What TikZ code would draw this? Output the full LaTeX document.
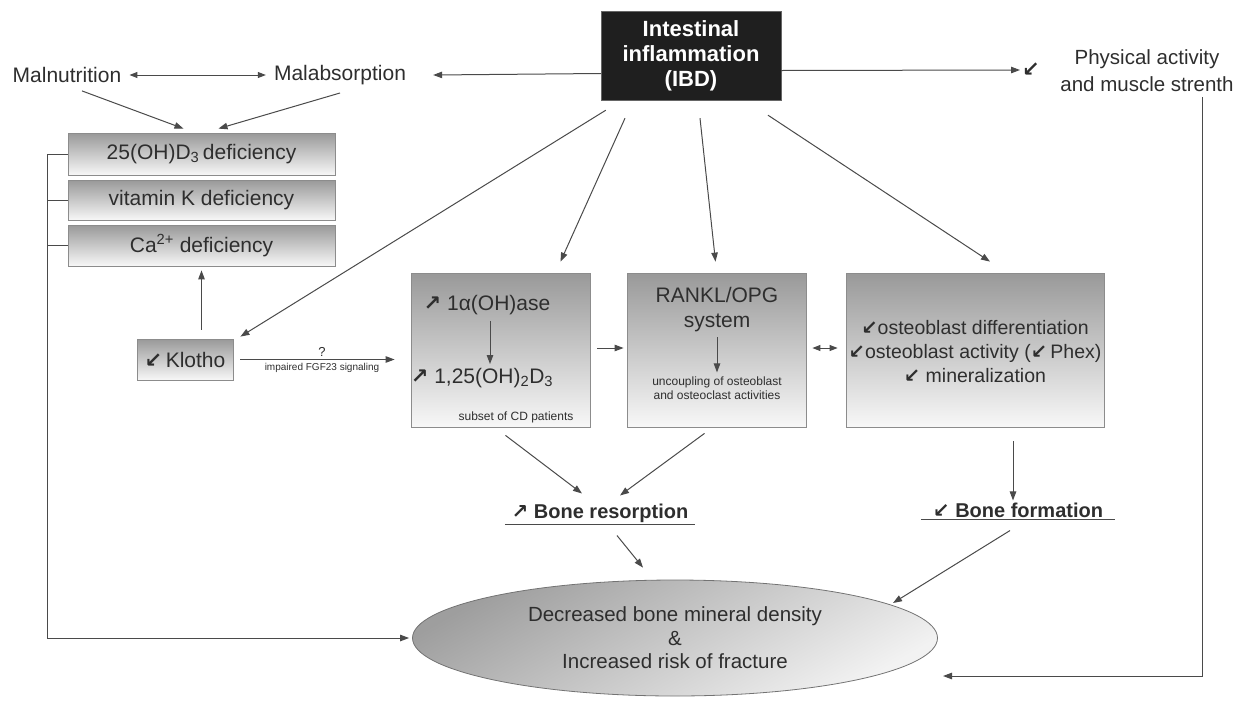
\documentclass[tikz,border=0pt]{standalone}
\usepackage{fontspec}
\setmainfont{Liberation Sans}
\newfontfamily\symfont{DejaVu Sans}
\usetikzlibrary{arrows.meta,shapes.geometric,calc}
\newcommand\upar{{\symfont\bfseries\char"2197}}
\newcommand\dnar{{\symfont\bfseries\char"2199}}
\definecolor{txt}{HTML}{2E2E2E}
\definecolor{ln}{HTML}{4A4A4A}
\begin{document}
\begin{tikzpicture}[x=1pt,y=-1pt,
  every node/.style={font=\fontsize{21}{25}\selectfont, text=txt, inner sep=2pt},
  arr/.style={draw=ln, line width=1pt, -{Triangle[length=9pt,width=6.5pt]}},
  darr/.style={draw=ln, line width=1pt, {Triangle[length=8pt,width=6pt]}-{Triangle[length=8pt,width=6pt]}},
  plain/.style={draw=ln, line width=1pt},
  gbox/.style={draw=black!45, line width=0.8pt, top color=black!40, bottom color=black!3, inner sep=0pt},
  small/.style={font=\fontsize{12}{14}\selectfont},
  tiny/.style={font=\fontsize{10}{11}\selectfont},
  mid/.style={font=\fontsize{19.5}{24}\selectfont},
  bold/.style={font=\bfseries\fontsize{20}{24}\selectfont},
]
\useasboundingbox (0,0) rectangle (1240,702);

% top row
\node[fill=black!88, draw=black!60, minimum width=180pt, minimum height=89pt, text=white,
      font=\bfseries\fontsize{22}{25}\selectfont, align=center] (ibd) at (691,55.5)
      {Intestinal\\inflammation\\(IBD)};
\node (malnut) at (67,75) {Malnutrition};
\node (malabs) at (340,75) {Malabsorption};
\node (physarr) at (1031,70) {\dnar};
\node[align=center, font=\fontsize{20.5}{27}\selectfont] (phys) at (1147,71) {Physical activity\\and muscle strenth};

% deficiency boxes
\node[gbox, minimum width=267pt, minimum height=42pt] (d25) at (201.5,154) {25(OH)D\textsubscript{3}\,deficiency};
\node[gbox, minimum width=267pt, minimum height=40pt] (vitk) at (201.5,200) {vitamin K deficiency};
\node[gbox, minimum width=267pt, minimum height=41pt] (ca) at (201.5,245.5) {Ca\textsuperscript{2+} deficiency};

% Klotho
\node[gbox, minimum width=96pt, minimum height=41pt] (klotho) at (185,359.5) {\dnar\,Klotho};

% middle boxes
\node[gbox, minimum width=179pt, minimum height=154pt] (alpha) at (500.5,350) {};
\node (a1) at (487,305) {\upar\ 1α(OH)ase};
\node (a2) at (482,378) {\upar\ 1,25(OH)\textsubscript{2}D\textsubscript{3}};
\node[small] (a3) at (516,417) {subset of CD patients};

\node[gbox, minimum width=179pt, minimum height=154pt] (rankl) at (716.5,350) {};
\node[align=center, font=\fontsize{21}{25}\selectfont] (r1) at (717,310) {RANKL/OPG\\system};
\node[small, align=center] (r2) at (717,388) {uncoupling of osteoblast\\and osteoclast activities};

\node[gbox, minimum width=258pt, minimum height=154pt] (ob) at (975,350) {};
\node[mid, align=center] (obt) at (975,352)
  {\dnar osteoblast differentiation\\\dnar osteoblast activity (\dnar\,Phex)\\\dnar\ mineralization};

% bone resorption / formation
\node[bold, minimum width=190pt] (bres) at (600,513) {\upar\ Bone resorption};
\node[bold, minimum width=194pt] (bform) at (1018,510) {\dnar\ Bone formation};
\draw[plain] (bres.south west) -- (bres.south east);
\draw[plain] (bform.south west) -- (bform.south east);

% ellipse
\node[ellipse, draw=black!55, line width=0.8pt, minimum width=525pt, minimum height=116pt,
      top color=black!38, bottom color=black!5, shading angle=30, align=center,
      font=\fontsize{20.5}{23.5}\selectfont] (ell) at (675,638)
      {Decreased bone mineral density\\\&\\Increased risk of fracture};

% connectors
\draw[darr, shorten <=6pt, shorten >=6pt] (malnut.east) -- (malabs.west);
\draw[arr] ($(ibd.west)+(0,18)$) -- ($(malabs.east)+(25,0)$);
\draw[arr] ($(ibd.east)+(0,15)$) -- (physarr.west);
\draw[arr] ($(malnut.south)+(15,6)$) -- ($(d25.north)+(-18,-4)$);
\draw[arr] ($(malabs.south)+(0,6)$) -- ($(d25.north)+(17,-4)$);

\draw[arr] ($(ibd.south west)+(5,10)$) -- ($(klotho.north east)+(7,-2)$);
\draw[arr] ($(ibd.south)+(-66,18)$) -- ($(alpha.north)+(60,-11)$);
\draw[arr] ($(ibd.south)+(9,18)$) -- ($(rankl.north)+(-1,-11)$);
\draw[arr] ($(ibd.south)+(77,15)$) -- ($(ob.north)+(15,-11)$);

\draw[arr, shorten <=9pt, shorten >=4pt] (ca.south |- klotho.north) -- (ca.south);
\draw[plain] (d25.west) -- ++(-20,0) coordinate (brk);
\draw[plain] (vitk.west) -- ++(-20,0);
\draw[plain] (ca.west) -- ++(-20,0);
\draw[arr, shorten >=3pt] (brk) |- (ell.west);

\draw[arr, shorten <=7pt, shorten >=16pt] (klotho.east) -- (klotho.east -| alpha.west)
   node[midway, above=1pt, font=\fontsize{13}{14}\selectfont] {?}
   node[midway, below=1pt, tiny] {impaired FGF23 signaling};

\draw[arr, shorten <=4pt, shorten >=2pt] (a1.south -| 490,0) -- (a2.north -| 490,0);
\draw[arr, shorten <=7pt, shorten >=3pt] ($(alpha.east)+(0,-2)$) -- ($(rankl.west)+(0,-2)$);
\draw[arr, shorten <=3pt, shorten >=2pt] (r1.south) -- (r2.north);
\draw[darr, shorten <=6pt, shorten >=8pt] ($(rankl.east)+(0,-2)$) -- ($(ob.west)+(0,-2)$);

\draw[arr] ($(alpha.south)+(5,8)$) -- ($(bres.north)+(-18,-8)$);
\draw[arr] ($(rankl.south)+(-12,6)$) -- ($(bres.north)+(20,-6)$);
\draw[arr, shorten <=14pt] (ob.south -| 1013,0) -- (bform.north -| 1013,0);

\draw[arr] ($(bres.south)+(17,11)$) -- ($(ell.north)+(-32,-12)$);
\draw[arr] ($(bform.south)+(-8,11)$) -- ($(ell.center)+(218,-35)$);
\draw[arr] ($(phys.south)+(55,3)$) |- ($(ell.center)+(268,38)$);
\end{tikzpicture}
\end{document}
